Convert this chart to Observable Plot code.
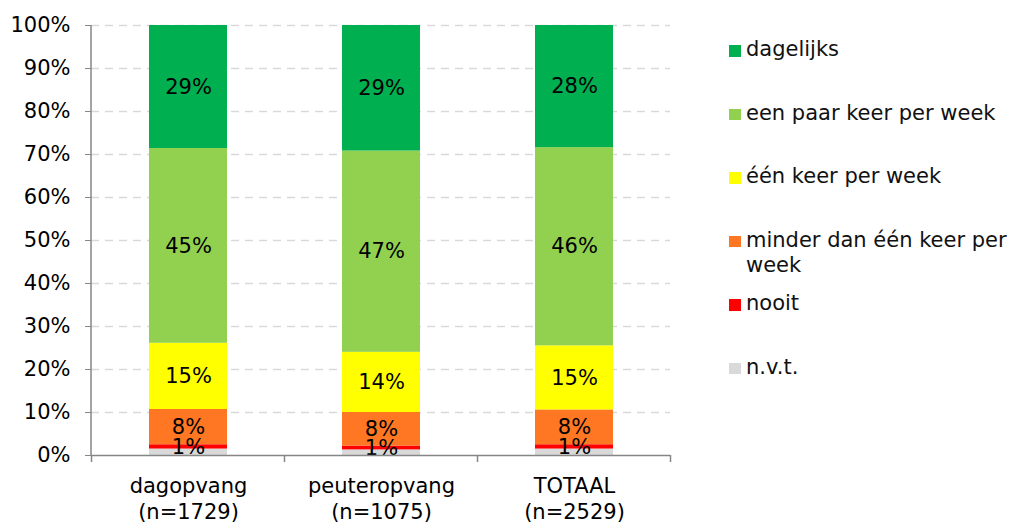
<!DOCTYPE html>
<html>
<head>
<meta charset="utf-8">
<script src="https://cdn.jsdelivr.net/npm/d3@7"></script>
<script src="https://cdn.jsdelivr.net/npm/@observablehq/plot@0.6"></script>
<style>
  html, body { margin: 0; padding: 0; background: #fff; }
  #wrap { position: relative; width: 1016px; height: 523px; font-family: "DejaVu Sans", Verdana, sans-serif; }
  #legend { position: absolute; left: 729px; top: 37px; font-size: 21px; color: #111; }
  .item { position: relative; height: 63.6px; }
  .sw { position: absolute; left: 0; top: 8px; width: 11.5px; height: 11.5px; }
  .lbl { position: absolute; left: 17px; top: 0; line-height: 25px; width: 285px; white-space: nowrap; }
</style>
</head>
<body>
<div id="wrap"><div id="chart"></div><div id="legend"></div></div>
<script>
const categories = ["dagopvang", "peuteropvang", "TOTAAL"];
const categoryLabels = ["dagopvang\n(n=1729)", "peuteropvang\n(n=1075)", "TOTAAL\n(n=2529)"];
// series, bottom to top
const series = ["n.v.t.", "nooit", "minder dan één keer per week", "één keer per week", "een paar keer per week", "dagelijks"];
const colors = ["#D9D9D9", "#FF0000", "#FF7722", "#FFFF00", "#92D050", "#00B050"];
const legendLabels = ["dagelijks", "een paar keer per week", "één keer per week", "minder dan één keer per\nweek", "nooit", "n.v.t."];
// values (%) per category, in series order
const dagopvang = [1.5, 1.0, 8.2, 15.4, 45.3, 28.6];
const peuteropvang = [1.3, 0.9, 7.8, 14.0, 46.8, 29.2];
const totaal = [1.5, 1.0, 8.1, 14.9, 46.1, 28.4];
const yTicks = [0, 10, 20, 30, 40, 50, 60, 70, 80, 90, 100];

const valuesByCat = [dagopvang, peuteropvang, totaal];
const rows = [];
categories.forEach((c, i) => series.forEach((s, j) => rows.push({cat: c, series: s, value: valuesByCat[i][j]})));

const labelOf = Object.fromEntries(categories.map((c, i) => [c, categoryLabels[i]]));

function frameLines(index, scales, values, dims) {
  const x = scales.x;
  const bw = typeof x.bandwidth === "function" ? x.bandwidth() : x.bandwidth;
  const step = typeof x.step === "function" ? x.step() : x.step;
  const g = document.createElementNS("http://www.w3.org/2000/svg", "g");
  const bottom = dims.height - dims.marginBottom;
  const mk = (x1, y1, x2, y2) => {
    const l = document.createElementNS("http://www.w3.org/2000/svg", "line");
    l.setAttribute("x1", x1); l.setAttribute("y1", y1);
    l.setAttribute("x2", x2); l.setAttribute("y2", y2);
    l.setAttribute("stroke", "#868686"); l.setAttribute("stroke-width", 1.5);
    g.appendChild(l);
  };
  mk(dims.marginLeft, dims.marginTop, dims.marginLeft, bottom);
  const off = (step - bw) / 2;
  const bounds = categories.map(c => x(c) - off);
  bounds.push(x(categories[categories.length - 1]) + bw + off);
  bounds.forEach(b => mk(b, bottom, b, bottom + 7));
  return g;
}

const chart = Plot.plot({
  width: 700,
  height: 523,
  marginLeft: 91,
  marginRight: 30,
  marginTop: 25,
  marginBottom: 68,
  style: {fontFamily: "DejaVu Sans, Verdana, sans-serif", fontSize: "21px", color: "#000", background: "#fff", overflow: "visible"},
  x: {domain: categories, paddingInner: 0.596, paddingOuter: 0.298, label: null},
  y: {domain: [0, 100], label: null},
  color: {domain: series, range: colors},
  marks: [
    Plot.gridY(yTicks.slice(1), {stroke: "#D9D9D9", strokeOpacity: 1, strokeWidth: 1.5, strokeDasharray: "8,6"}),
    Plot.barY(rows, Plot.stackY({x: "cat", y: "value", z: "series", fill: "series", order: series})),
    Plot.text(rows, Plot.stackY({x: "cat", y: "value", z: "series", order: series,
      text: d => d.series === "n.v.t." ? "" : Math.round(d.value) + "%",
      fill: "#000", fontSize: 21})),
    Plot.ruleY([0], {stroke: "#868686", strokeWidth: 1.5}),
    frameLines,
    Plot.axisY(yTicks, {tickSize: 6, tickPadding: 15, tickFormat: d => d + "%", stroke: "#868686", fill: "#000", fontSize: 21, label: null}),
    Plot.axisX({tickSize: 0, tickPadding: 18, tickFormat: d => labelOf[d], fill: "#000", fontSize: 21, lineHeight: 1.28, label: null})
  ]
});
document.getElementById("chart").appendChild(chart);

const legend = document.getElementById("legend");
legendLabels.forEach(l => {
  const idx = series.indexOf(l.replace("\n", " "));
  const item = document.createElement("div");
  item.className = "item";
  const sw = document.createElement("div");
  sw.className = "sw";
  sw.style.background = colors[idx];
  const t = document.createElement("div");
  t.className = "lbl";
  t.innerHTML = l.replace("\n", "<br>");
  item.appendChild(sw); item.appendChild(t);
  legend.appendChild(item);
});
</script>
</body>
</html>
